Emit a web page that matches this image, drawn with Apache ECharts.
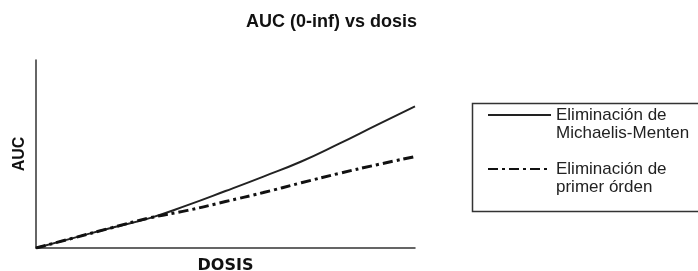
<!DOCTYPE html>
<html>
<head>
<meta charset="utf-8">
<script src="https://cdn.jsdelivr.net/npm/echarts@6/dist/echarts.min.js"></script>
<style>
  html, body { margin: 0; padding: 0; background: #fff; }
  #chart { width: 698px; height: 271px; }
</style>
</head>
<body>
<div id="chart"></div>
<script>
// dose (relative units) and AUC (relative units)
var dosis = [0, 1, 2, 3, 4, 5, 6, 7, 8, 9, 10];
var aucMichaelis = [0, 5.4, 10.8, 15.9, 22.8, 30.3, 38, 46, 55.5, 65.5, 75.3];
var aucPrimerOrden = [0, 5.4, 10.8, 16, 20, 24.7, 29.5, 34.7, 39.7, 44.3, 48.6];
var nombres = ['Eliminación de\nMichaelis-Menten', 'Eliminación de\nprimer órden'];

var chart = echarts.init(document.getElementById('chart'), null, { renderer: 'canvas' });

function pares(xs, ys) {
  return xs.map(function (x, i) { return [x, ys[i]]; });
}

chart.setOption({
  backgroundColor: '#fff',
  animation: false,
  title: {
    text: 'AUC (0-inf) vs dosis',
    left: 246,
    top: 13,
    padding: 0,
    textStyle: { fontFamily: 'Liberation Sans, Arial, sans-serif', fontWeight: 'bold', fontSize: 18, color: '#111' }
  },
  grid: { left: 36, top: 60, right: 283, bottom: 23, outerBoundsMode: 'none', containLabel: false },
  legend: {
    orient: 'vertical',
    left: 487,
    top: 88,
    padding: 0,
    itemGap: 0,
    itemWidth: 63,
    itemHeight: 14,
    data: nombres,
    // first line of each label sits level with its line sample
    formatter: function (name) { return '\n' + name; },
    itemStyle: { opacity: 0 },
    textStyle: {
      fontFamily: 'Liberation Sans, Arial, sans-serif',
      fontSize: 17,
      color: '#222',
      lineHeight: 18
    }
  },
  graphic: [{
    type: 'rect',
    shape: { x: 472.5, y: 103.5, width: 240, height: 108 },
    style: { fill: 'none', stroke: '#333', lineWidth: 1.5 }
  }],
  xAxis: {
    type: 'value',
    min: 0,
    max: 10,
    name: 'DOSIS',
    nameLocation: 'middle',
    nameGap: 10,
    nameTextStyle: { fontFamily: 'DejaVu Sans, sans-serif', fontWeight: 'bold', fontSize: 16, color: '#111' },
    axisLine: { lineStyle: { color: '#333', width: 1.5 } },
    axisTick: { show: false },
    axisLabel: { show: false },
    splitLine: { show: false }
  },
  yAxis: {
    type: 'value',
    min: 0,
    max: 100,
    name: 'AUC',
    nameLocation: 'middle',
    nameGap: 8,
    nameTextStyle: { fontFamily: 'Liberation Sans, Arial, sans-serif', fontWeight: 'bold', fontSize: 16, color: '#111' },
    axisLine: { show: true, lineStyle: { color: '#333', width: 1.5 } },
    axisTick: { show: false },
    axisLabel: { show: false },
    splitLine: { show: false }
  },
  series: [{
    name: nombres[0],
    type: 'line',
    data: pares(dosis, aucMichaelis),
    smooth: 0.5,
    symbol: 'none',
    lineStyle: { color: '#222', width: 2, type: 'solid' },
    itemStyle: { color: '#222' }
  }, {
    name: nombres[1],
    type: 'line',
    data: pares(dosis, aucPrimerOrden),
    smooth: 0.5,
    symbol: 'none',
    lineStyle: { color: '#111', width: 3, type: [10, 4, 3, 4] },
    itemStyle: { color: '#111' }
  }]
});
</script>
</body>
</html>
